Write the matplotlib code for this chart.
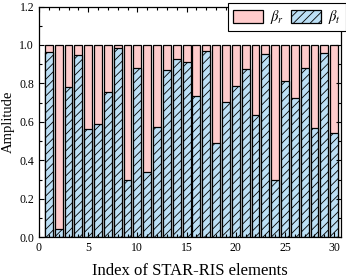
import matplotlib
matplotlib.use("Agg")
import matplotlib.pyplot as plt
from matplotlib.ticker import MultipleLocator

plt.rcParams["font.family"] = "Liberation Serif"
plt.rcParams["mathtext.fontset"] = "stix"
plt.rcParams["hatch.linewidth"] = 0.6

# element index and amplitudes
element = list(range(1, 31))
beta_t = [0.965, 0.043, 0.78, 0.948, 0.563, 0.588, 0.756, 0.983, 0.298, 0.882,
          0.338, 0.572, 0.872, 0.925, 0.913, 0.735, 0.97, 0.489, 0.705, 0.789,
          0.873, 0.636, 0.951, 0.300, 0.815, 0.723, 0.882, 0.567, 0.957, 0.541]
total = [1.0] * 30

PINK = "#ffcccc"
BLUE = "#bcdff5"

fig = plt.figure(figsize=(3.46, 2.77), dpi=100)
ax = fig.add_axes([0.1127, 0.1433, 0.873, 0.8332])

ax.bar(element, total, width=0.8, color=PINK, edgecolor="black", lw=0.9,
       label=r"$\beta_r$")
ax.bar(element, beta_t, width=0.8, color=BLUE, edgecolor="black", lw=0.9,
       hatch="////", label=r"$\beta_t$")

ax.set_xlim(0, 30.7)
ax.set_ylim(0, 1.2)
ax.xaxis.set_major_locator(MultipleLocator(5))
ax.xaxis.set_minor_locator(MultipleLocator(1))
ax.yaxis.set_major_locator(MultipleLocator(0.2))
ax.yaxis.set_minor_locator(MultipleLocator(0.1))
ax.tick_params(which="both", direction="in", top=True, right=True,
               labelsize=8.5, width=0.8)
ax.tick_params(which="major", length=3.5)
ax.tick_params(which="minor", length=2)
for s in ax.spines.values():
    s.set_linewidth(0.9)

ax.set_xlabel("Index of STAR-RIS elements", fontsize=12, labelpad=6)
ax.set_ylabel("Amplitude", fontsize=10.5, labelpad=3)

leg = ax.legend(loc="upper right", bbox_to_anchor=(1.0, 1 - 3 / 277),
                bbox_transform=fig.transFigure, ncol=2, fontsize=10.5,
                frameon=True, fancybox=False, framealpha=1,
                edgecolor="black", borderaxespad=0, handlelength=2.0,
                handleheight=1.0, columnspacing=0.5, handletextpad=0.5,
                borderpad=0.35)
leg.get_frame().set_linewidth(0.8)

fig.savefig("out.png", dpi=100)
